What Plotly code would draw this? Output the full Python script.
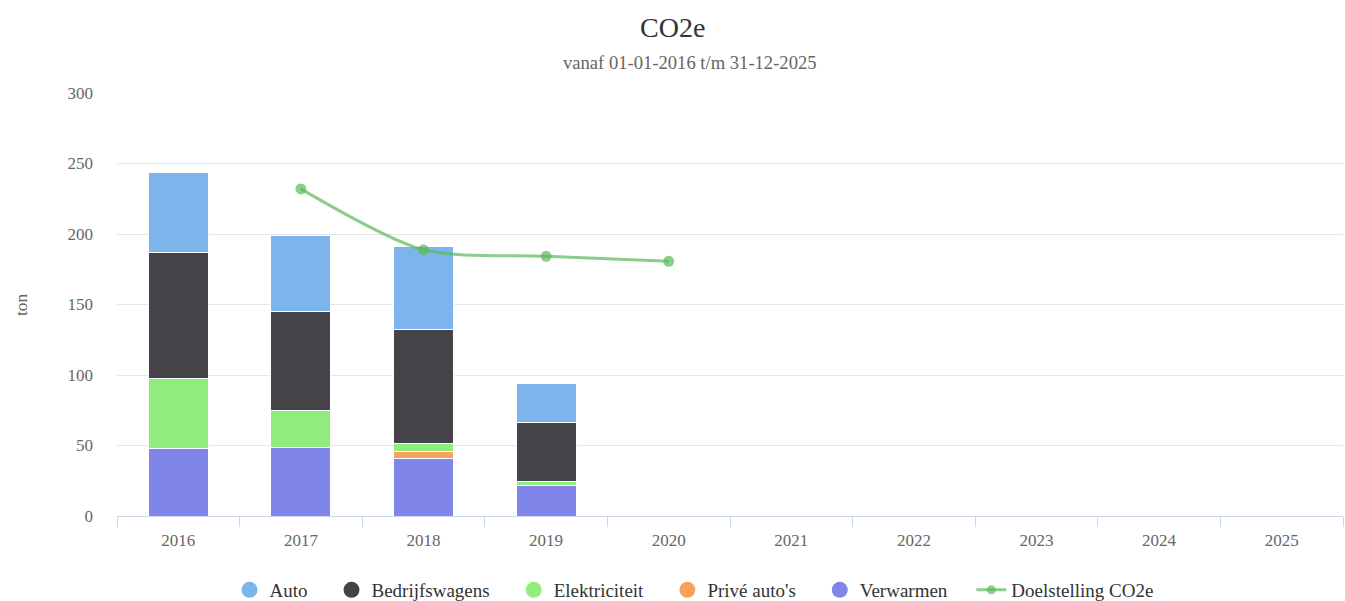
import plotly.graph_objects as go

years = ["2016", "2017", "2018", "2019", "2020", "2021", "2022", "2023", "2024", "2025"]
bar_years = ["2016", "2017", "2018", "2019"]
verwarmen = [48.1, 48.7, 40.7, 21.4]
prive_autos = [0, 0, 5.0, 0]
elektriciteit = [49.5, 26.3, 5.4, 2.8]
bedrijfswagens = [89.2, 70.0, 81.5, 42.0]
auto = [57.1, 53.7, 58.3, 27.9]
target_years = ["2017", "2018", "2019", "2020"]
target = [232.0, 188.8, 184.2, 180.6]

series = [
    ("Auto", auto, "#7cb5ec"),
    ("Bedrijfswagens", bedrijfswagens, "#434348"),
    ("Elektriciteit", elektriciteit, "#90ed7d"),
    ("Privé auto's", prive_autos, "#f7a35c"),
    ("Verwarmen", verwarmen, "#8085e9"),
]
line_name = "Doelstelling CO2e"
line_color = "rgba(90,185,90,0.7)"
font_family = "Liberation Serif, Times New Roman, serif"
PAD = "\u00a0" * 4

W, H = 1345, 601
ML, MR, MT, MB = 117, 2, 93, 85
plot_w = W - ML - MR
plot_h = H - MT - MB


def px_x(x):
    return (x - ML) / plot_w


def px_y(y):
    return (H - MB - y) / plot_h


fig = go.Figure()
for name, vals, col in reversed(series):
    fig.add_trace(go.Bar(x=bar_years, y=vals, name=name,
                         marker=dict(color=col, line=dict(color="white", width=1)),
                         showlegend=False))
fig.add_trace(go.Scatter(x=target_years, y=target, mode="lines+markers", name=line_name,
                         line=dict(color=line_color, width=3, shape="spline", smoothing=0.8),
                         marker=dict(color=line_color, size=11), showlegend=False))
for name, vals, col in series:
    fig.add_trace(go.Scatter(x=[None], y=[None], mode="markers", name=name + PAD,
                             marker=dict(color=col, size=17, symbol="circle")))
fig.add_trace(go.Scatter(x=[None], y=[None], mode="lines+markers", name=line_name,
                         line=dict(color=line_color, width=3), marker=dict(color=line_color, size=9)))

fig.update_layout(
    barmode="stack",
    bargap=0.51,
    width=W, height=H,
    margin=dict(l=ML, r=MR, t=MT, b=MB, autoexpand=False),
    plot_bgcolor="white", paper_bgcolor="white",
    font=dict(family=font_family, size=17, color="#666666"),
    showlegend=True,
    legend=dict(orientation="h", x=px_x(694), xanchor="center", y=px_y(571), yanchor="top",
                traceorder="normal", font=dict(size=19, color="#333333", family=font_family),
                itemwidth=30, tracegroupgap=0),
    annotations=[
        dict(text="CO2e", x=px_x(W / 2), y=px_y(27), xref="paper", yref="paper", showarrow=False,
             xanchor="center", yanchor="middle", font=dict(size=28, color="#333333", family=font_family)),
        dict(text="vanaf 01-01-2016 t/m 31-12-2025", x=px_x(690), y=px_y(62), xref="paper",
             yref="paper", showarrow=False, xanchor="center", yanchor="middle",
             font=dict(size=18.6, color="#666666", family=font_family)),
        dict(text="ton", x=px_x(21), y=px_y(305), xref="paper", yref="paper", showarrow=False,
             textangle=-90, xanchor="center", yanchor="middle",
             font=dict(size=17.5, color="#666666", family=font_family)),
    ],
)

fig.update_xaxes(type="category", categoryorder="array", categoryarray=years, range=[-0.5, 9.5],
                 showline=True, linecolor="#ccd6eb", linewidth=1, ticks="outside", tickson="boundaries",
                 tickcolor="#ccd6eb", ticklen=10, showgrid=False,
                 tickfont=dict(size=17, color="#666666", family=font_family),
                 ticklabelstandoff=9)
fig.update_yaxes(range=[0, 300], dtick=50, showgrid=True, gridcolor="#e6e6e6", gridwidth=1,
                 zeroline=False, showline=False, ticks="",
                 tickfont=dict(size=17, color="#666666", family=font_family),
                 ticklabelstandoff=23)

fig.write_html("out.html", config={"displayModeBar": False},
               post_script="document.body.style.margin='0';document.body.style.overflow='hidden';")
